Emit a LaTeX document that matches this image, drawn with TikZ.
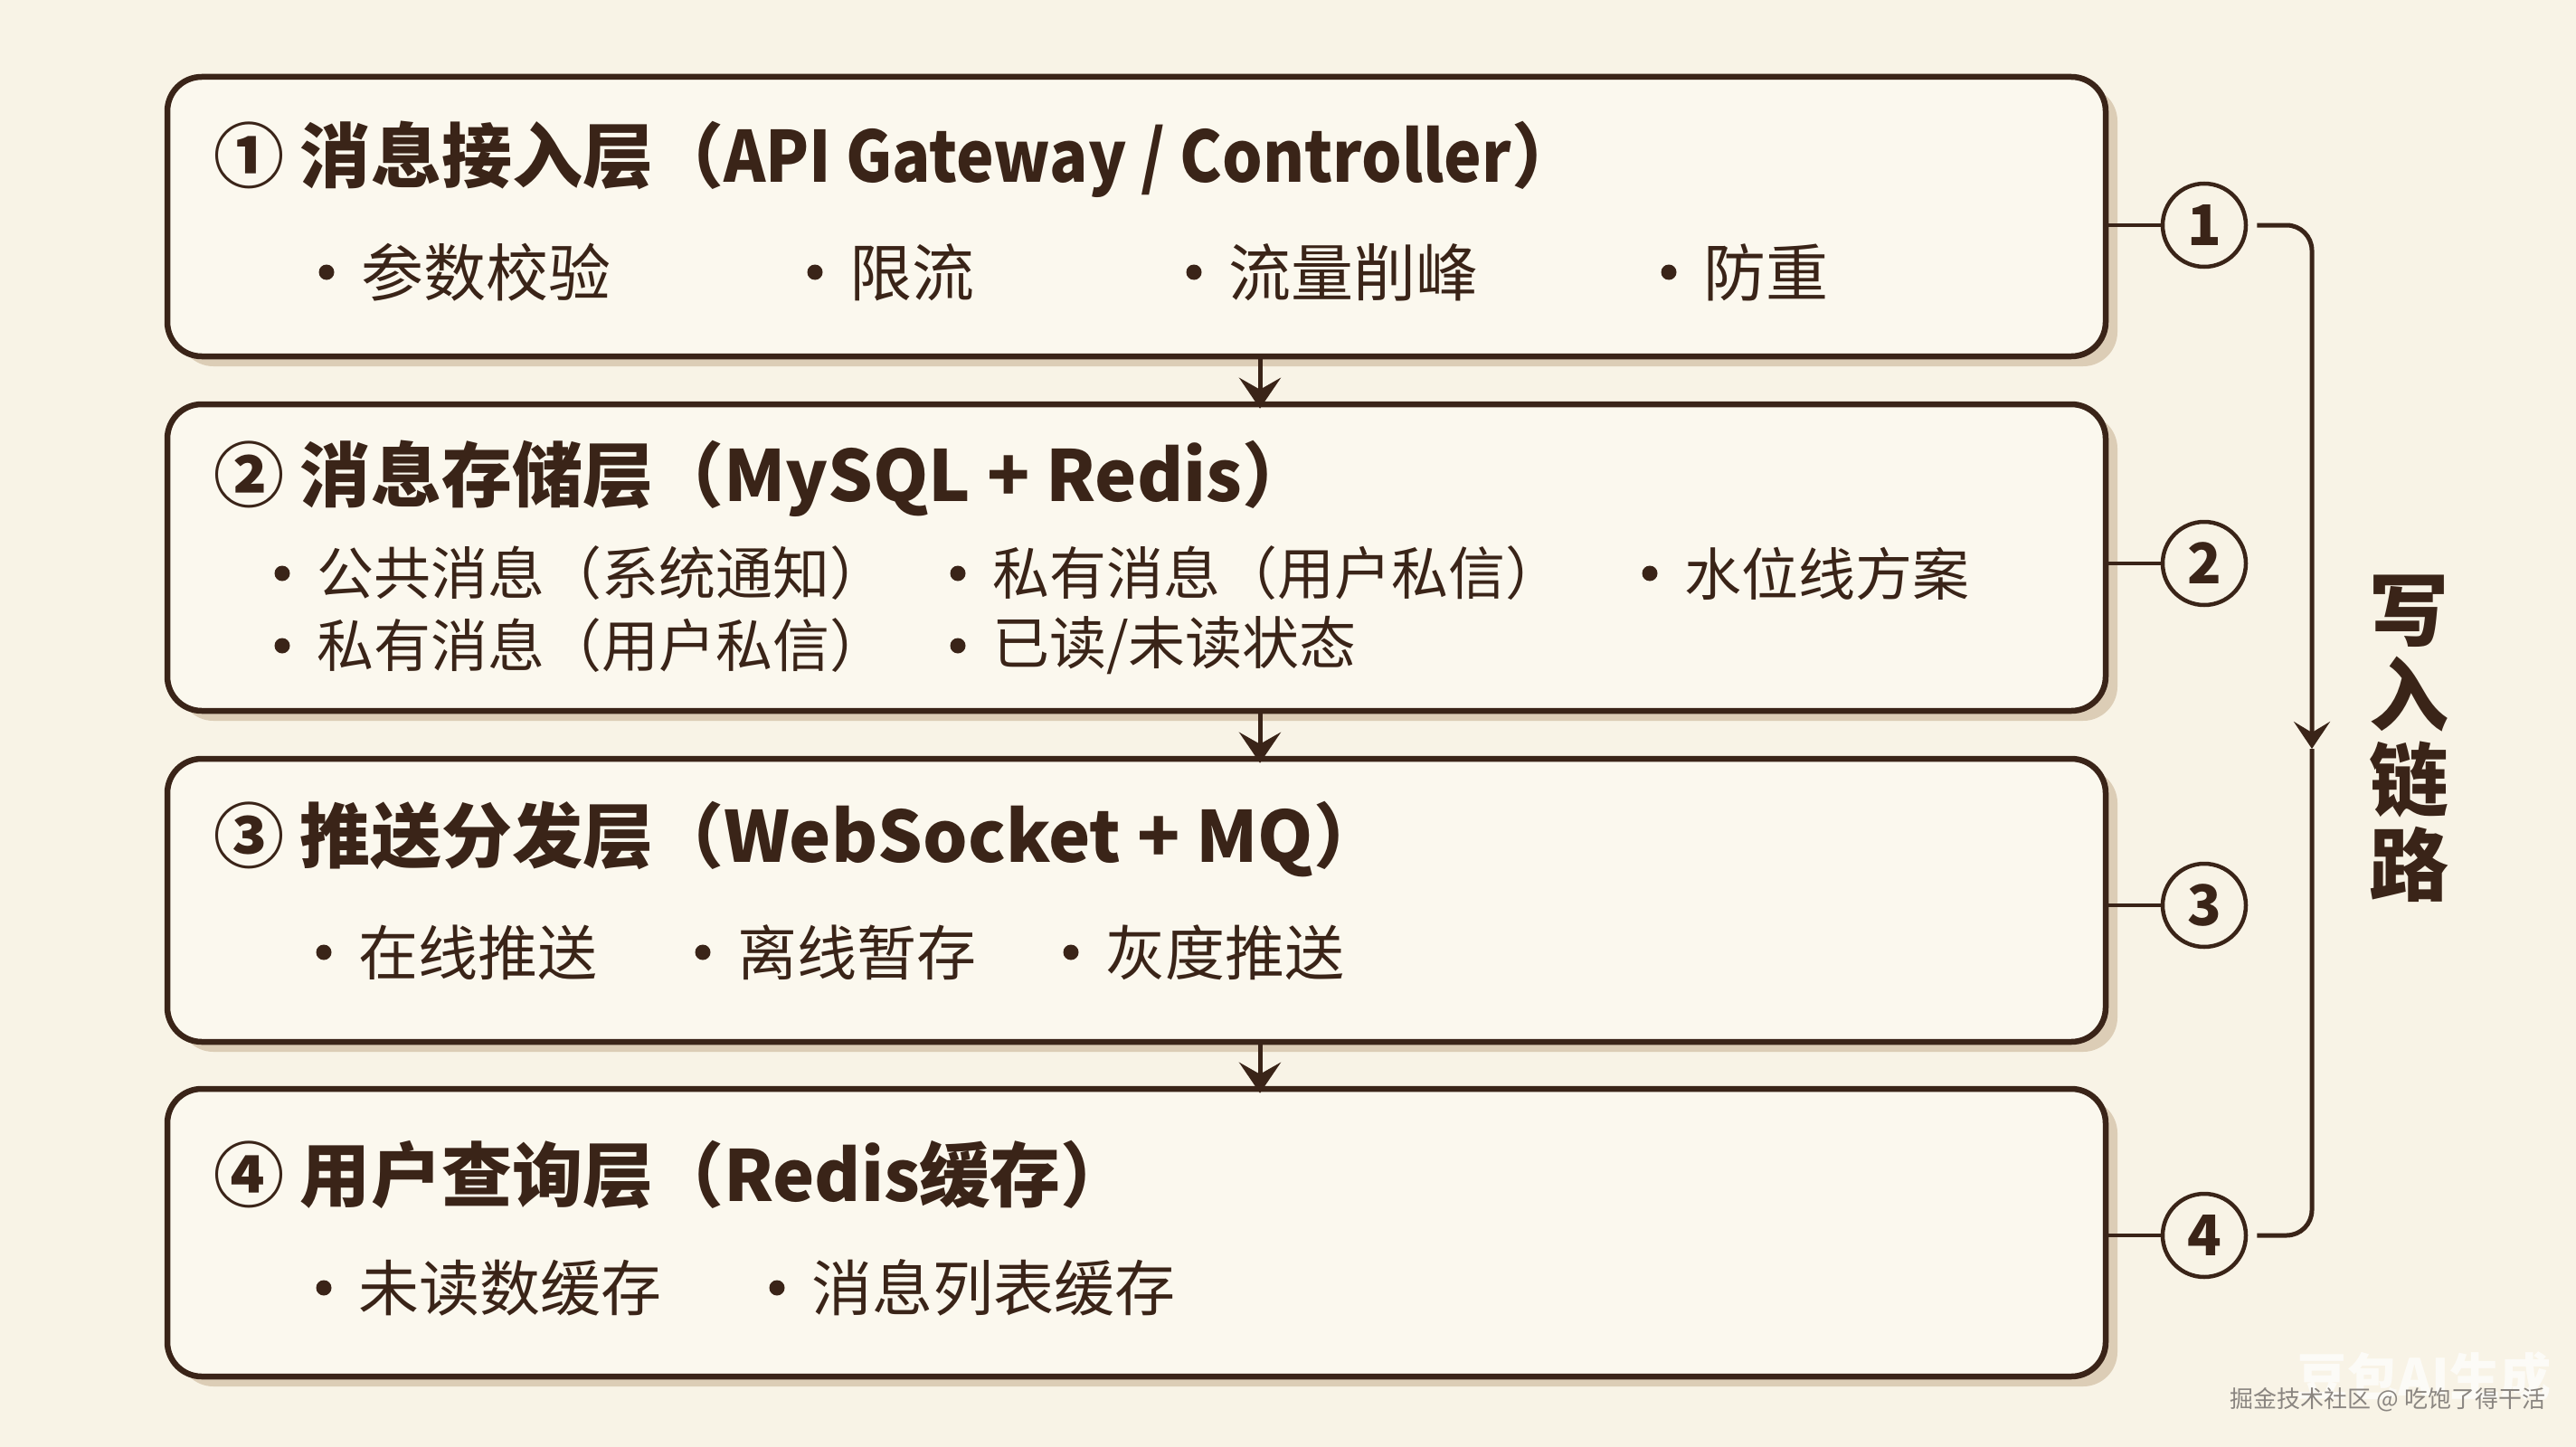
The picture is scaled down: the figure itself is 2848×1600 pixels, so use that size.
\documentclass[tikz,border=0pt]{standalone}
\usepackage{fontspec}
\usepackage{graphicx}
\setmainfont{Noto Sans CJK SC}
\usetikzlibrary{arrows.meta,shadows}
\definecolor{ink}{HTML}{3A2418}
\definecolor{bgc}{HTML}{F8F3E6}
\definecolor{boxc}{HTML}{FBF8EE}
\definecolor{shadc}{HTML}{DCCDB6}
\definecolor{wmgray}{HTML}{8A8580}
\tikzset{
  layer/.style={draw=ink, line width=6.5pt, rounded corners=38pt, fill=boxc,
    minimum width=2143pt, inner sep=0pt,
    drop shadow={shadow xshift=13pt, shadow yshift=-11pt, fill=shadc, opacity=1}},
  ttl/.style={anchor=west, text=ink, inner sep=0pt, font=\fontsize{78}{82}\selectfont\bfseries},
  item/.style={anchor=west, text=ink, inner sep=0pt},
  num/.style={circle, draw=ink, line width=4.5pt, minimum size=92pt, inner sep=0pt,
    text=ink, font=\fontsize{62}{62}\selectfont\bfseries},
  flow/.style={draw=ink, line width=5pt, -{Stealth[length=34pt, width=46pt, inset=13pt]}},
  conn/.style={draw=ink, line width=4pt},
  brk/.style={draw=ink, line width=5pt, rounded corners=28pt},
}
\newcommand{\bitem}[5]{\fill[ink] (#2,#3) circle (8.5pt); \node[item, font=\fontsize{#4}{#4}\selectfont] (#1) at ({#2+38},#3) {#5};}
\begin{document}
\begin{tikzpicture}[x=1pt,y=-1pt]
\fill[bgc] (0,0) rectangle (2848,1600);
\useasboundingbox (0,0) rectangle (2848,1600);

% layers
\node[layer, minimum height=309pt] (b1) at (1256.5,239.5) {};
\node[layer, minimum height=339pt] (b2) at (1256.5,616.5) {};
\node[layer, minimum height=313pt] (b3) at (1256.5,995.5) {};
\node[layer, minimum height=318pt] (b4) at (1256.5,1363) {};

% titles
\node[ttl] (t1) at (236,176) {① 消息接入层（\scalebox{0.9}[1]{API Gateway / Controller}）};
\node[ttl] (t2) at (236,529) {② 消息存储层（MySQL + Redis）};
\node[ttl] (t3) at (236,928) {③ 推送分发层（WebSocket + MQ）};
\node[ttl] (t4) at (236,1299) {④ 用户查询层（Redis缓存）};

% items
\bitem{i11}{361}{301}{69}{参数校验}
\bitem{i12}{901}{301}{69}{限流}
\bitem{i13}{1320}{301}{69}{流量削峰}
\bitem{i14}{1845}{301}{69}{防重}

\bitem{i21}{312}{634}{63}{公共消息（系统通知）}
\bitem{i22}{1059}{634}{63}{私有消息（用户私信）}
\bitem{i23}{1824}{634}{63}{水位线方案}
\bitem{i24}{312}{714}{63}{私有消息（用户私信）}
\bitem{i25}{1059}{714}{63}{已读/未读状态}

\bitem{i31}{358}{1053}{66}{在线推送}
\bitem{i32}{777}{1053}{66}{离线暂存}
\bitem{i33}{1184}{1053}{66}{灰度推送}

\bitem{i41}{358}{1424}{67}{未读数缓存}
\bitem{i42}{859}{1424}{67}{消息列表缓存}

% flow arrows between layers
\draw[flow] ([xshift=136.5pt]b1.south) -- ([xshift=136.5pt, yshift=-8pt]b2.north);
\draw[flow] ([xshift=136.5pt]b2.south) -- ([xshift=136.5pt, yshift=-8pt]b3.north);
\draw[flow] ([xshift=136.5pt]b3.south) -- ([xshift=136.5pt, yshift=-8pt]b4.north);

% numbered circles
\node[num] (c1) at (2437,249) {1};
\node[num] (c2) at (2437,623) {2};
\node[num] (c3) at (2437,1001) {3};
\node[num] (c4) at (2437,1366) {4};

\draw[conn] (c1.west -| b1.east) -- (c1.west);
\draw[conn] (c2.west -| b2.east) -- (c2.west);
\draw[conn] (c3.west -| b3.east) -- (c3.west);
\draw[conn] (c4.west -| b4.east) -- (c4.west);

% bracket
\coordinate (bm) at (2556,828);
\draw[brk, -{Stealth[length=30pt, width=40pt, inset=12pt]}] ([xshift=10pt]c1.east) -| (bm);
\draw[brk] (bm) |- ([xshift=10pt]c4.east);

\node[text=ink, align=center, inner sep=0pt, font=\fontsize{88}{94}\selectfont\bfseries] (wl) at (2663,817) {写\\入\\链\\路};

% watermark
\node[text=white, opacity=0.7, inner sep=0pt, font=\fontsize{56}{60}\selectfont\bfseries] (wm1) at (2680,1522) {豆包AI生成};
\node[text=wmgray, inner sep=0pt, font=\fontsize{26}{30}\selectfont] (wm2) at (2640,1548) {掘金技术社区 @ 吃饱了得干活};
\end{tikzpicture}
\end{document}
